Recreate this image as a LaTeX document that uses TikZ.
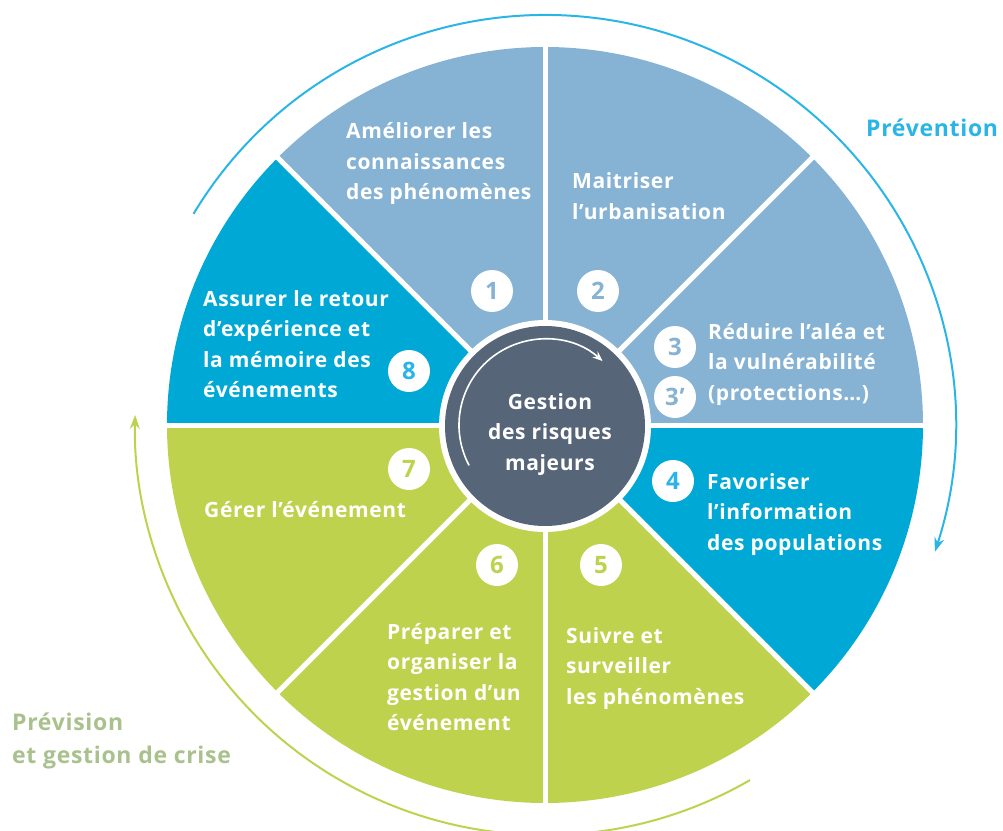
\documentclass[tikz,border=0pt]{standalone}
\usepackage{fontspec}
\setmainfont{Open Sans}[LetterSpace=3]
\usetikzlibrary{arrows.meta}
\definecolor{lblue}{HTML}{86B3D4}
\definecolor{mblue}{HTML}{00A9D5}
\definecolor{lgreen}{HTML}{BFD24E}
\definecolor{slate}{HTML}{566578}
\definecolor{sky}{HTML}{2BB5E6}
\definecolor{sage}{HTML}{A9C18D}
\newcommand\lblfont{\fontsize{21}{30.5}\selectfont\bfseries}
\newcommand\numfont{\fontsize{24}{26}\selectfont\bfseries}
\newcommand\linesL[1]{\begin{tabular}[t]{@{}l@{}}#1\end{tabular}}
\newcommand\linesC[1]{\begin{tabular}[t]{@{}c@{}}#1\end{tabular}}
\begin{document}
\begin{tikzpicture}[x=1pt,y=1pt,
  lbl/.style={anchor=base west, inner sep=0pt, text=white, font=\lblfont},
  num/.style={circle, fill=white, minimum size=42pt, inner sep=0pt, font=\numfont},
  title/.style={anchor=base west, inner sep=0pt, font=\fontsize{23}{33}\selectfont\bfseries},
  cyclearrow/.style={line width=2pt, -{Stealth[length=14pt,width=10pt]}}
]
\useasboundingbox (-545,-405) rectangle (458,425);
% sectors
\foreach \a/\c in {90/lblue,45/lblue,0/lblue,-45/mblue,-90/lgreen,-135/lgreen,180/lgreen,135/mblue}
  \fill[\c] (0,0) -- (\a:378) arc[start angle=\a, end angle=\a+45, radius=378pt] -- cycle;
\foreach \a in {0,45,...,315}
  \draw[white, line width=5pt] (0,0) -- (\a:385);
% centre
\fill[white] (0,-1) circle[radius=106pt];
\node[circle, fill=slate, minimum size=200pt, inner sep=0pt] (centre) at (0,-1) {};
\draw[white, line width=1.6pt, -{Stealth[length=10pt,width=8pt]}] (208:86) arc[start angle=208, end angle=48, radius=86pt];
\node[anchor=base, inner sep=0pt, text=white, font=\lblfont] (ctext) at (5,16) {\linesC{Gestion\\des risques\\majeurs}};
% outer cycle arrows
\draw[sky, cyclearrow] (149:410) arc[start angle=149, end angle=-18, radius=410pt];
\draw[lgreen, cyclearrow] (-60:410) arc[start angle=-60, end angle=-181.4, radius=410pt];
% titles
\node[title, text=sky] (prev) at (321,288) {Prévention};
\node[title, text=sage] (previs) at (-533,-305) {\linesL{Prévision\\et gestion de crise}};
% sector labels
\node[lbl] (t1) at (-199,286) {\linesL{Améliorer les\\connaissances\\des phénomènes}};
\node[lbl] (t2) at (27,236) {\linesL{Maitriser\\l’urbanisation}};
\node[lbl] (t3) at (163,86) {\linesL{Réduire l’aléa et\\la vulnérabilité\\(protections…)}};
\node[lbl] (t4) at (162,-64) {\linesL{Favoriser\\l’information\\des populations}};
\node[lbl] (t5) at (21,-218) {\linesL{Suivre et\\surveiller\\les phénomènes}};
\node[lbl] (t6) at (-158,-214) {\linesL{Préparer et\\organiser la\\gestion d’un\\événement}};
\node[lbl] (t7) at (-341,-92) {Gérer l’événement};
\node[lbl] (t8) at (-342,119) {\linesL{Assurer le retour\\d’expérience et\\la mémoire des\\événements}};
% number badges
\node[num, text=lblue] (n1) at (-53,134) {1};
\node[num, text=lblue] (n2) at (53,134) {2};
\node[num, text=lblue] (n3) at (130,78) {3};
\node[num, text=lblue] (n3b) at (130,28) {3’};
\node[num, text=sky] (n4) at (128,-56) {4};
\node[num, text=lgreen] (n5) at (56,-140) {5};
\node[num, text=lgreen] (n6) at (-48,-140) {6};
\node[num, text=lgreen] (n7) at (-136,-44) {7};
\node[num, text=sky] (n8) at (-136,54) {8};
\end{tikzpicture}
\end{document}
